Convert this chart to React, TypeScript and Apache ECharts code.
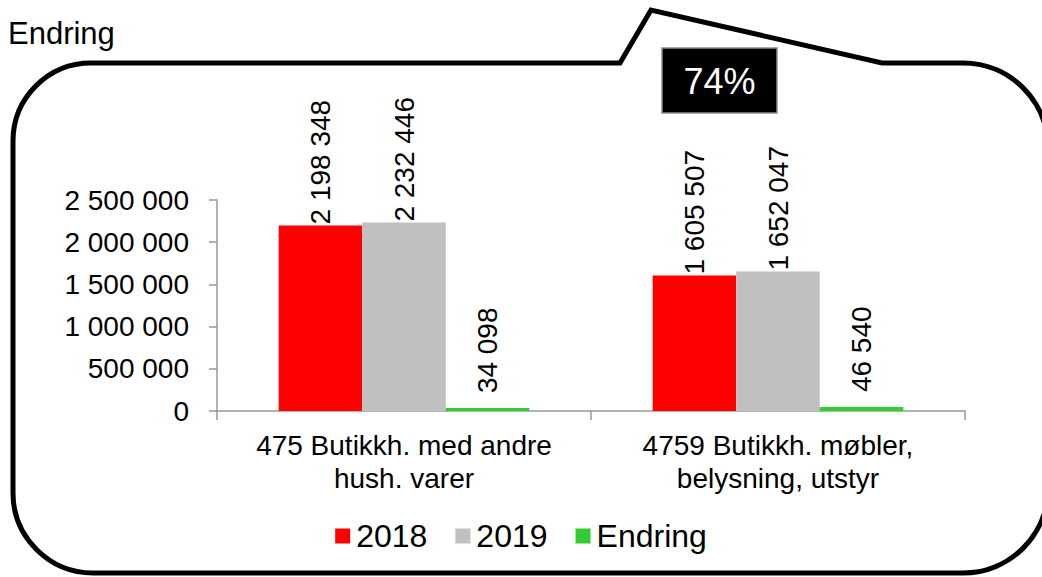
import React, { useEffect, useRef } from "react";
import * as echarts from "echarts";

const categories = [
  "475 Butikkh. med andre\nhush. varer",
  "4759 Butikkh. møbler,\nbelysning, utstyr",
];
const seriesNames = ["2018", "2019", "Endring"];
const values2018 = [2198348, 1605507];
const values2019 = [2232446, 1652047];
const valuesEndring = [34098, 46540];
const yTicks = { min: 0, max: 2500000, interval: 500000 };
const titleText = "Endring";
const calloutText = "74%";

const FONT = "Liberation Sans, Arial, sans-serif";

const fmt = (v: number) =>
  String(Math.round(v)).replace(/\B(?=(\d{3})+(?!\d))/g, " ");

const CALLOUT_D =
  "M 13 141 C 13 98 48 63 91 63 L 620 63 L 651 10 L 882 63 L 963 63 " +
  "C 1010 63 1048 101 1048 148 L 1048 488 C 1048 535 1010 573 963 573 " +
  "L 93 573 C 49 573 13 537 13 493 Z";

let registered = false;

export default function App() {
  const ref = useRef<HTMLDivElement>(null);
  useEffect(() => {
    if (!ref.current) return;
    if (!registered) {
      echarts.graphic.registerShape(
        "callout",
        echarts.graphic.extendPath(CALLOUT_D, {}) as any
      );
      registered = true;
    }
    const chart = echarts.init(ref.current, undefined, { renderer: "svg" });
    const labelBase = {
      show: true,
      position: "top" as const,
      rotate: 90,
      align: "left" as const,
      verticalAlign: "middle" as const,
      distance: 1,
      fontSize: 28,
      fontFamily: FONT,
      color: "#000",
      formatter: (p: any) => fmt(p.value),
    };
    chart.setOption({
      animation: false,
      backgroundColor: "#fff",
      title: {
        text: titleText,
        left: 3,
        top: 13,
        textStyle: {
          fontSize: 31,
          fontWeight: "normal",
          fontFamily: FONT,
          color: "#000",
        },
      },
      graphic: [
        {
          type: "callout",
          x: 0,
          y: 0,
          z: 0,
          silent: true,
          style: {
            fill: "none",
            stroke: "#000",
            lineWidth: 5,
            lineJoin: "miter",
          },
        },
        {
          type: "rect",
          shape: { x: 662, y: 48, width: 115, height: 65 },
          style: { fill: "#000", stroke: "#8c8c8c", lineWidth: 1.5 },
          z: 10,
        },
        {
          type: "text",
          x: 719.5,
          y: 81,
          z: 11,
          style: {
            text: calloutText,
            fill: "#fff",
            fontSize: 36,
            fontFamily: FONT,
            align: "center",
            verticalAlign: "middle",
          },
        },
      ],
      legend: {
        data: seriesNames,
        left: "center",
        top: 515,
        itemWidth: 15,
        itemHeight: 15,
        itemGap: 28,
        icon: "rect",
        textStyle: { fontSize: 32, fontFamily: FONT, color: "#000", padding: [0, 0, 0, 1] },
      },
      grid: { left: 217, right: 77, top: 200, bottom: 166, containLabel: false },
      xAxis: {
        type: "category",
        data: categories,
        axisLine: { show: true, lineStyle: { color: "#999", width: 1.5 } },
        axisTick: { show: true, length: 9, lineStyle: { color: "#999", width: 1.5 } },
        axisLabel: {
          fontSize: 28,
          lineHeight: 33,
          margin: 18,
          fontFamily: FONT,
          color: "#000",
          interval: 0,
        },
      },
      yAxis: {
        type: "value",
        min: yTicks.min,
        max: yTicks.max,
        interval: yTicks.interval,
        splitLine: { show: false },
        axisLine: { show: true, lineStyle: { color: "#999", width: 1.5 } },
        axisTick: { show: true, length: 8, lineStyle: { color: "#999", width: 1.5 } },
        axisLabel: {
          fontSize: 28,
          margin: 28,
          fontFamily: FONT,
          color: "#000",
          formatter: (v: number) => fmt(v),
        },
      },
      series: [
        {
          name: seriesNames[0],
          type: "bar",
          data: values2018,
          barGap: "0%",
          barCategoryGap: "33%",
          itemStyle: { color: "#ff0000" },
          label: labelBase,
        },
        {
          name: seriesNames[1],
          type: "bar",
          data: values2019,
          barGap: "0%",
          barCategoryGap: "33%",
          itemStyle: { color: "#c0c0c0" },
          label: labelBase,
        },
        {
          name: seriesNames[2],
          type: "bar",
          data: valuesEndring,
          barGap: "0%",
          barCategoryGap: "33%",
          itemStyle: { color: "#33cc33" },
          label: { ...labelBase, distance: 15 },
        },
      ],
    });
    return () => chart.dispose();
  }, []);
  return (
    <div
      ref={ref}
      style={{ position: "fixed", left: 0, top: 0, width: 1042, height: 577 }}
    />
  );
}
